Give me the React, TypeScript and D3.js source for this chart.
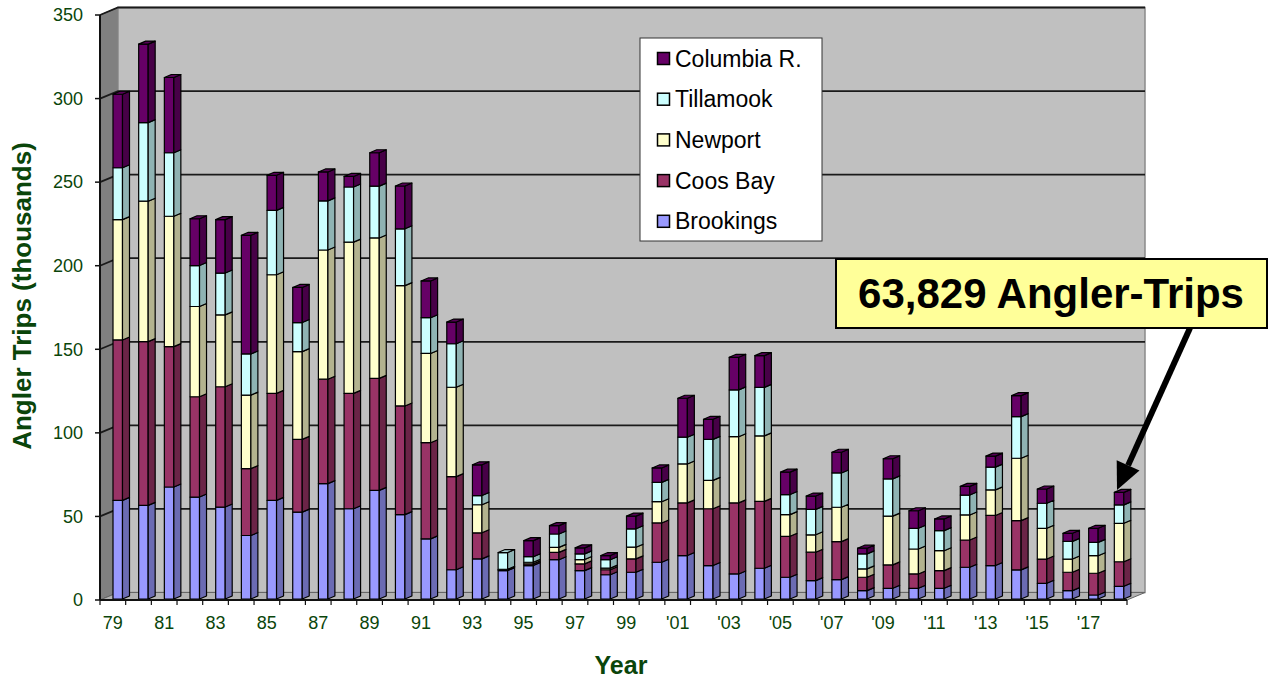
import React from "react";
import * as d3 from "d3";

const years: number[] = d3.range(1979, 2019);
const seriesNames = ["Brookings", "Coos Bay", "Newport", "Tillamook", "Columbia R."];

const brookings = [59, 56, 67, 61, 55, 38, 59, 52, 69, 54, 65, 50.5, 36, 17.5, 24, 17, 20, 23.5, 17, 14.5, 16, 22, 26, 20, 15, 18.4, 13, 11, 11.6, 5, 6.4, 6.4, 6.4, 19, 20, 17.4, 9.4, 5, 2.4, 7.6];
const coosBay = [96, 98, 84, 60, 72, 40, 64, 43.5, 62.5, 69, 67, 65, 57.5, 55.7, 15.6, 0.5, 1, 4.4, 4, 3, 8, 23.5, 31.5, 34, 42.5, 40, 24.5, 17, 22.7, 8, 14, 8.6, 10.6, 16.3, 30, 29.5, 14.5, 11, 13, 14.7];
const newport = [72, 84, 78, 54, 43, 44, 71, 52.5, 77.3, 90.5, 84, 72, 53.4, 53.5, 16.8, 0.3, 1, 3, 2.6, 1, 7, 12.7, 23.3, 17, 39.6, 39.2, 13, 10.4, 20.6, 5, 29.2, 14.9, 11.9, 15, 15.3, 37.3, 18.4, 7.9, 10.5, 23];
const tillamook = [31, 47, 38, 24.5, 25, 24.6, 38.5, 17.4, 29.4, 33, 31, 34, 21.4, 26, 5.5, 10, 3.3, 8, 3.4, 5, 11, 11.6, 16, 24.5, 28, 29, 12, 15.2, 20.5, 9, 22.3, 12.4, 12, 11.9, 13.6, 24.9, 15, 10.6, 8, 11];
const columbia = [44, 47, 45, 28, 32, 71, 21, 21, 17.3, 6.3, 20, 25.6, 22, 13, 18.4, 0, 9.6, 5, 3.6, 2.5, 7.6, 8.6, 23.3, 12, 19.5, 19, 13.4, 8, 12.4, 3.4, 12, 10.5, 7, 5.2, 6.6, 12.6, 8.5, 4.8, 8.4, 7.5];
const yTicks = [0, 50, 100, 150, 200, 250, 300, 350];
const annotationText = "63,829 Angler-Trips";

const colors = ["#9999FF", "#993366", "#FFFFCC", "#CCFFFF", "#660066"];
const FONT = "'Liberation Sans', Arial, sans-serif";
const GREEN = "#0a450a";

function yearLabel(y: number) {
  const s = String(y % 100).padStart(2, "0");
  return y >= 2000 ? "'" + s : s;
}

export default function App() {
  const W = 1273, H = 678;
  const x0 = 100, x1 = 1127, yBase = 600, yTop = 15;
  const DX = 18, DY = -7.5;
  const bdx = 7, bdy = -3, faceOff = 13, faceW = 9.5;

  const x = d3.scaleBand<number>().domain(years).range([x0, x1]).padding(0);
  const y = d3.scaleLinear().domain([0, 350]).range([yBase, yTop]);

  const rows = years.map((yr, i) => ({
    year: yr,
    Brookings: brookings[i],
    "Coos Bay": coosBay[i],
    Newport: newport[i],
    Tillamook: tillamook[i],
    "Columbia R.": columbia[i],
  }));
  const stacked = d3.stack<any>().keys(seriesNames)(rows);

  const shade = (c: string, k: number) => {
    const col = d3.rgb(c);
    return d3.rgb(col.r * k, col.g * k, col.b * k).formatHex();
  };

  const bars: React.ReactNode[] = [];
  years.forEach((yr, i) => {
    const bx = (x(yr) as number) + faceOff;
    let lastTop: number | null = null;
    let lastColor = colors[0];
    stacked.forEach((s, si) => {
      const [v0, v1] = s[i];
      if (v1 - v0 <= 0.05) return;
      const yb = y(v0) - 1;
      const yt = y(v1) - 1;
      const c = colors[si];
      bars.push(
        <g key={`b${i}-${si}`} stroke="#000" strokeWidth={1.2} strokeLinejoin="round">
          <rect x={bx} y={yt} width={faceW} height={yb - yt} fill={c} />
          <polygon
            points={`${bx + faceW},${yb} ${bx + faceW + bdx},${yb + bdy} ${bx + faceW + bdx},${yt + bdy} ${bx + faceW},${yt}`}
            fill={shade(c, 0.7)}
          />
        </g>
      );
      lastTop = yt;
      lastColor = c;
    });
    if (lastTop !== null) {
      const yt = lastTop as number;
      bars.push(
        <polygon
          key={`t${i}`}
          points={`${bx},${yt} ${bx + faceW},${yt} ${bx + faceW + bdx},${yt + bdy} ${bx + bdx},${yt + bdy}`}
          fill={shade(lastColor, 0.85)}
          stroke="#000"
          strokeWidth={1.2}
          strokeLinejoin="round"
        />
      );
    }
  });

  // arrow
  const tip = { x: 1117, y: 490 };
  const start = { x: 1190, y: 328 };
  const vx = tip.x - start.x, vy = tip.y - start.y;
  const len = Math.hypot(vx, vy);
  const ux = vx / len, uy = vy / len;
  const nx = -uy, ny = ux;
  const headL = 27, headW = 12.5;
  const base = { x: tip.x - headL * ux, y: tip.y - headL * uy };

  return (
    <div style={{ position: "absolute", left: 0, top: 0 }}>
      <svg width={W} height={H} style={{ display: "block", background: "#fff" }} fontFamily={FONT}>
        {/* side wall */}
        <polygon
          points={`${x0},${yTop} ${x0 + DX},${yTop + DY} ${x0 + DX},${yBase + DY} ${x0},${yBase}`}
          fill="#808080"
          stroke="#555"
          strokeWidth={1}
        />
        {/* back wall */}
        <rect x={x0 + DX} y={yTop + DY} width={x1 - x0} height={yBase - yTop} fill="#C0C0C0" stroke="#8a8a8a" strokeWidth={1.5} />
        {/* floor */}
        <polygon
          points={`${x0},${yBase} ${x1},${yBase} ${x1 + DX},${yBase + DY} ${x0 + DX},${yBase + DY}`}
          fill="#B4B4B4"
          stroke="#666"
          strokeWidth={1}
        />
        {/* gridlines */}
        {yTicks.filter((t) => t > 0).map((t) => (
          <polyline
            key={`g${t}`}
            points={`${x0},${y(t)} ${x0 + DX},${y(t) + DY} ${x1 + DX},${y(t) + DY}`}
            fill="none"
            stroke="#1a1a1a"
            strokeWidth={1.8}
          />
        ))}
        {/* bars */}
        {bars}
        {/* y axis */}
        <line x1={x0} y1={yTop} x2={x0} y2={yBase} stroke="#111" strokeWidth={2} />
        {yTicks.map((t) => (
          <g key={`yt${t}`}>
            <line x1={x0 - 5} y1={y(t)} x2={x0} y2={y(t)} stroke="#111" strokeWidth={1.5} />
            <text x={83} y={y(t)} dy="0.35em" textAnchor="end" fontSize={18} fill={GREEN}>
              {t}
            </text>
          </g>
        ))}
        {/* x axis */}
        <line x1={x0} y1={yBase} x2={x1} y2={yBase} stroke="#111" strokeWidth={2} />
        {years.map((yr) => (
          <line key={`xt${yr}`} x1={x(yr) as number} y1={yBase} x2={x(yr) as number} y2={yBase + 5} stroke="#111" strokeWidth={1.2} />
        ))}
        <line x1={x1} y1={yBase} x2={x1} y2={yBase + 5} stroke="#111" strokeWidth={1.2} />
        {years.filter((_, i) => i % 2 === 0).map((yr) => (
          <text key={`xl${yr}`} x={(x(yr) as number) + x.bandwidth() / 2} y={629} textAnchor="middle" fontSize={18} fill={GREEN}>
            {yearLabel(yr)}
          </text>
        ))}
        {/* axis titles */}
        <text x={621} y={674} textAnchor="middle" fontSize={25} fontWeight="bold" fill={GREEN}>
          Year
        </text>
        <text transform="translate(31,296) rotate(-90)" textAnchor="middle" fontSize={26} fontWeight="bold" fill={GREEN}>
          Angler Trips (thousands)
        </text>
        {/* legend */}
        <rect x={640} y={38} width={182} height={203} fill="#fff" stroke="#333" strokeWidth={1} />
        {[...seriesNames].reverse().map((name, i) => {
          const cy = 58.5 + i * 40.7;
          const ci = seriesNames.length - 1 - i;
          return (
            <g key={`lg${name}`}>
              <rect x={657.5} y={cy - 6} width={12} height={12} fill={colors[ci]} stroke="#000" strokeWidth={1.5} />
              <text x={675} y={cy} dy="0.35em" fontSize={23} fill="#000">
                {name}
              </text>
            </g>
          );
        })}
        {/* arrow */}
        <line x1={start.x} y1={start.y} x2={base.x} y2={base.y} stroke="#000" strokeWidth={6} />
        <polygon
          points={`${tip.x},${tip.y} ${base.x + headW * nx},${base.y + headW * ny} ${base.x - headW * nx},${base.y - headW * ny}`}
          fill="#000"
        />
        {/* annotation */}
        <rect x={836} y={259} width={431} height={69} fill="#FFFF99" stroke="#000" strokeWidth={2} />
        <text x={1051} y={308} textAnchor="middle" fontSize={42} fontWeight="bold" fill="#000">
          {annotationText}
        </text>
      </svg>
    </div>
  );
}
